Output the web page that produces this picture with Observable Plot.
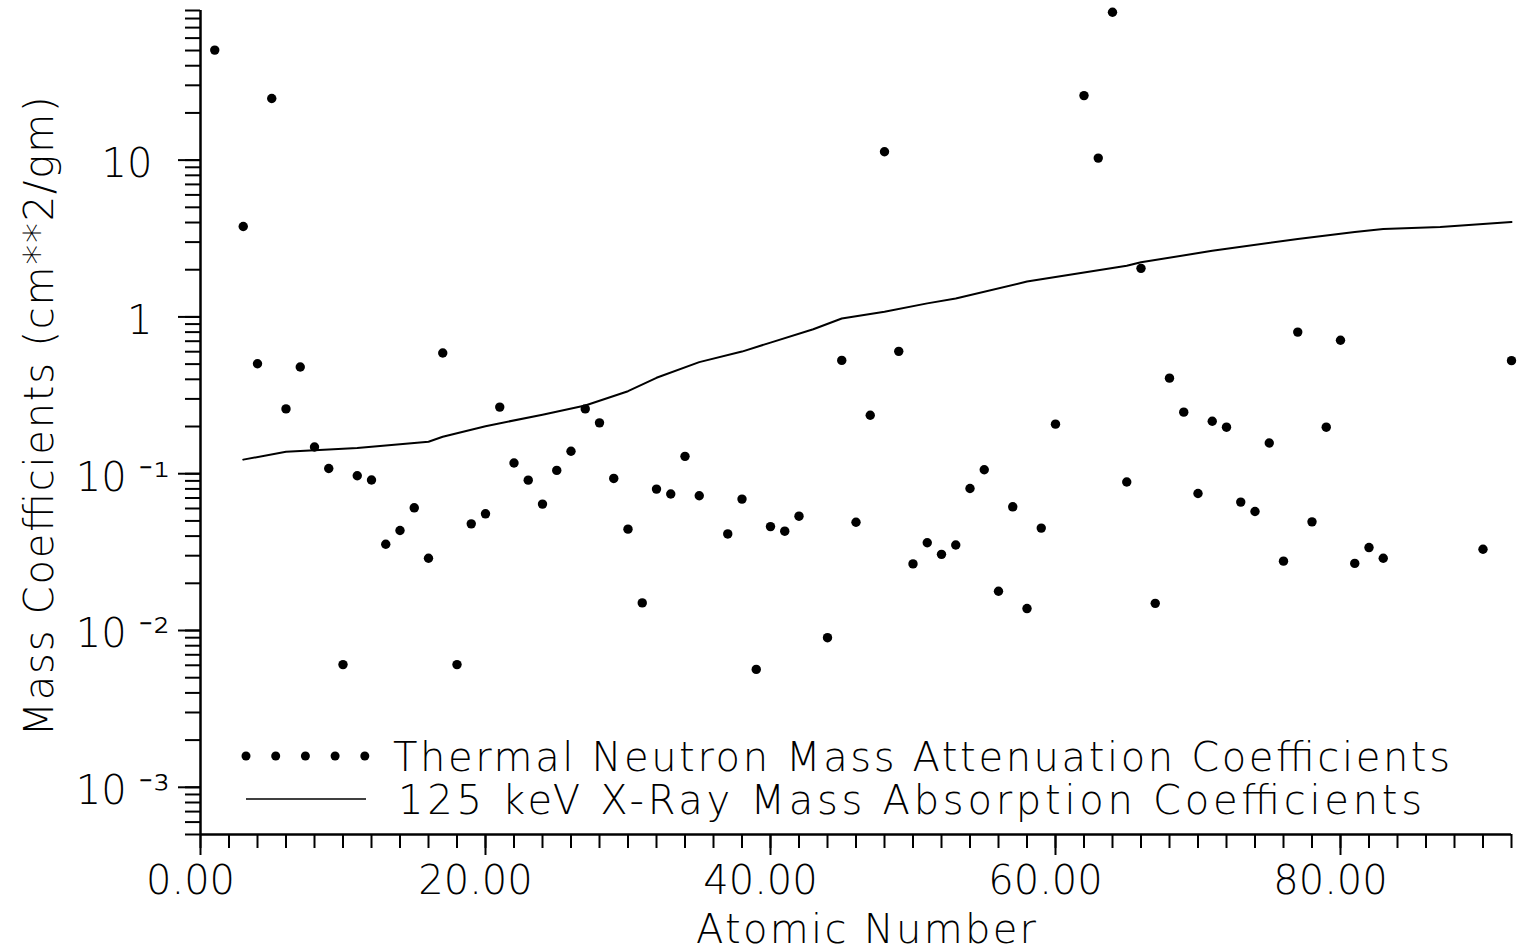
<!DOCTYPE html>
<html><head><meta charset="utf-8">
<script src="https://cdn.jsdelivr.net/npm/d3@7"></script>
<script src="https://cdn.jsdelivr.net/npm/@observablehq/plot@0.6"></script>
<style>
html,body{margin:0;padding:0;background:#fff;}
#wrap{position:relative;width:1518px;height:952px;}
#legend{position:absolute;left:0;top:0;}
</style></head><body><div id="wrap"></div>
<script>
// Thermal neutron mass attenuation coefficients (cm^2/g) by atomic number
const neutronZ  = [1,3,4,5,6,7,8,9,10,11,12,13,14,15,16,17,18,19,20,21,22,23,24,25,26,27,28,29,30,31,32,33,34,35,37,38,39,40,41,42,44,45,46,47,48,49,50,51,52,53,54,55,56,57,58,59,60,62,63,64,65,66,67,68,69,70,71,72,73,74,75,76,77,78,79,80,81,82,83,90,92];
const neutronMu = [50.3,3.77,0.503,24.7,0.259,0.479,0.148,0.108,0.00606,0.097,0.0912,0.0355,0.0434,0.0606,0.0289,0.589,0.00606,0.0479,0.0555,0.266,0.117,0.091,0.064,0.105,0.139,0.259,0.211,0.0933,0.0443,0.0150,0.0798,0.0742,0.129,0.0723,0.0413,0.0689,0.00565,0.046,0.043,0.0536,0.0090,0.528,0.049,0.236,11.3,0.603,0.0266,0.0363,0.0306,0.0351,0.0805,0.106,0.0178,0.0615,0.0138,0.045,0.207,25.8,10.3,87.7,0.0885,2.04,0.0149,0.407,0.247,0.0748,0.216,0.198,0.0659,0.0574,0.157,0.0277,0.80,0.0493,0.198,0.71,0.0268,0.0338,0.0289,0.033,0.526];
// 125 keV X-ray mass absorption coefficients (cm^2/g)
const xrayZ  = [3,6,8,11,16,17,20,24,27,30,32,35,38,40,43,45,48,51,53,58,65,66,71,77,81,83,87,92];
const xrayMu = [0.123,0.138,0.141,0.146,0.160,0.172,0.201,0.238,0.272,0.336,0.409,0.515,0.601,0.686,0.834,0.977,1.08,1.22,1.31,1.68,2.12,2.23,2.64,3.14,3.48,3.64,3.75,4.03];

const xMajorTicks = [0, 20, 40, 60, 80];
const xMinorTicks = d3.range(0, 93, 2);
const yMajorTicks = [1e-3, 1e-2, 1e-1, 1, 10];
const yExpTicks = [1e-3, 1e-2, 1e-1];
const yExpLabels = ["10 \u207B\u00B3", "10 \u207B\u00B2", "10 \u207B\u00B9"];
const yPlainTicks = [1, 10];
const yPlainLabels = ["1", "10"];
const xTitle = "Atomic Number";
const yTitle = "Mass Coefficients (cm**2/gm)";
const legendLabels = ["Thermal Neutron Mass Attenuation Coefficients", "125 keV X-Ray Mass Absorption Coefficients"];

const yDomain = [5e-4, 90];
const yMinorTicks = d3.scaleLog().domain(yDomain).ticks();

const neutron = neutronZ.map((z, i) => ({z, mu: neutronMu[i]}));
const xray = xrayZ.map((z, i) => ({z, mu: xrayMu[i]}));

const FONT = '"DejaVu Sans", "Liberation Sans", sans-serif';
const noLabel = () => "";

const chart = Plot.plot({
  width: 1518, height: 952,
  marginLeft: 200, marginRight: 7, marginTop: 10, marginBottom: 118,
  style: {fontFamily: FONT, fontWeight: 200, color: "#000", background: "#fff", overflow: "visible"},
  x: {domain: [0, 92], label: null},
  y: {type: "log", domain: yDomain, label: null},
  marks: [
    Plot.axisX({ticks: xMinorTicks, tickSize: 14, tickFormat: noLabel, strokeWidth: 2, label: null}),
    Plot.axisX({ticks: xMajorTicks, tickSize: 21, tickFormat: noLabel, strokeWidth: 2, label: null}),
    Plot.axisX({ticks: xMajorTicks, tickSize: 0, tickPadding: 31, tickFormat: d => d.toFixed(2), fontSize: 40, dx: -10, label: null}),
    Plot.axisY({ticks: yMinorTicks, tickSize: 15, tickFormat: noLabel, strokeWidth: 2, label: null}),
    Plot.axisY({ticks: yMajorTicks, tickSize: 22, tickFormat: noLabel, strokeWidth: 2, label: null}),
    Plot.text(yExpTicks, {y: d => d, text: (d, i) => yExpLabels[i], frameAnchor: "left", dx: -31, dy: 4, textAnchor: "end", fontSize: 40}),
    Plot.text(yPlainTicks, {y: d => d, text: (d, i) => yPlainLabels[i], frameAnchor: "left", dx: -48, dy: 4, textAnchor: "end", fontSize: 40}),
    Plot.ruleX([0], {strokeWidth: 2.5}),
    Plot.ruleY([yDomain[0]], {strokeWidth: 2.5}),
    Plot.line(xray, {x: "z", y: "mu", stroke: "#000", strokeWidth: 2}),
    Plot.dot(neutron, {x: "z", y: "mu", r: 4.7, fill: "#000", stroke: null}),
    Plot.text([xTitle], {frameAnchor: "bottom", dy: 96, dx: 10, lineAnchor: "middle", textAnchor: "middle", fontSize: 40}),
    Plot.text([yTitle], {frameAnchor: "left", dx: -160, dy: -6, rotate: -90, textAnchor: "middle", fontSize: 40})
  ]
});
const wrap = document.getElementById("wrap");
wrap.appendChild(chart);

// stretch titles to match reference spacing
d3.select(chart).selectAll("text").each(function() {
  const t = this.textContent;
  if (t === xTitle) { this.setAttribute("textLength", 340); this.setAttribute("lengthAdjust", "spacing"); }
  if (t === yTitle) { this.setAttribute("textLength", 640); this.setAttribute("lengthAdjust", "spacing"); }
});

// legend overlay (inside plot area, lower left)
const leg = d3.create("svg").attr("id", "legend").attr("width", 1518).attr("height", 952)
  .style("font-family", FONT).style("font-weight", 200);
const g = leg.append("g").attr("transform", "translate(246,756)");
g.selectAll("circle").data(d3.range(5)).join("circle")
  .attr("cx", d => d * 29.7).attr("cy", 0).attr("r", 4.5).attr("fill", "#000");
g.append("line").attr("x1", 0).attr("x2", 120).attr("y1", 43).attr("y2", 43).attr("stroke", "#000").attr("stroke-width", 1.5);
g.append("text").attr("x", 147).attr("y", 15).attr("font-size", 40).attr("textLength", 1057).attr("lengthAdjust", "spacing").text(legendLabels[0]);
g.append("text").attr("x", 152).attr("y", 58).attr("font-size", 40).attr("textLength", 1024).attr("lengthAdjust", "spacing").text(legendLabels[1]);
wrap.appendChild(leg.node());
</script>
</body></html>
